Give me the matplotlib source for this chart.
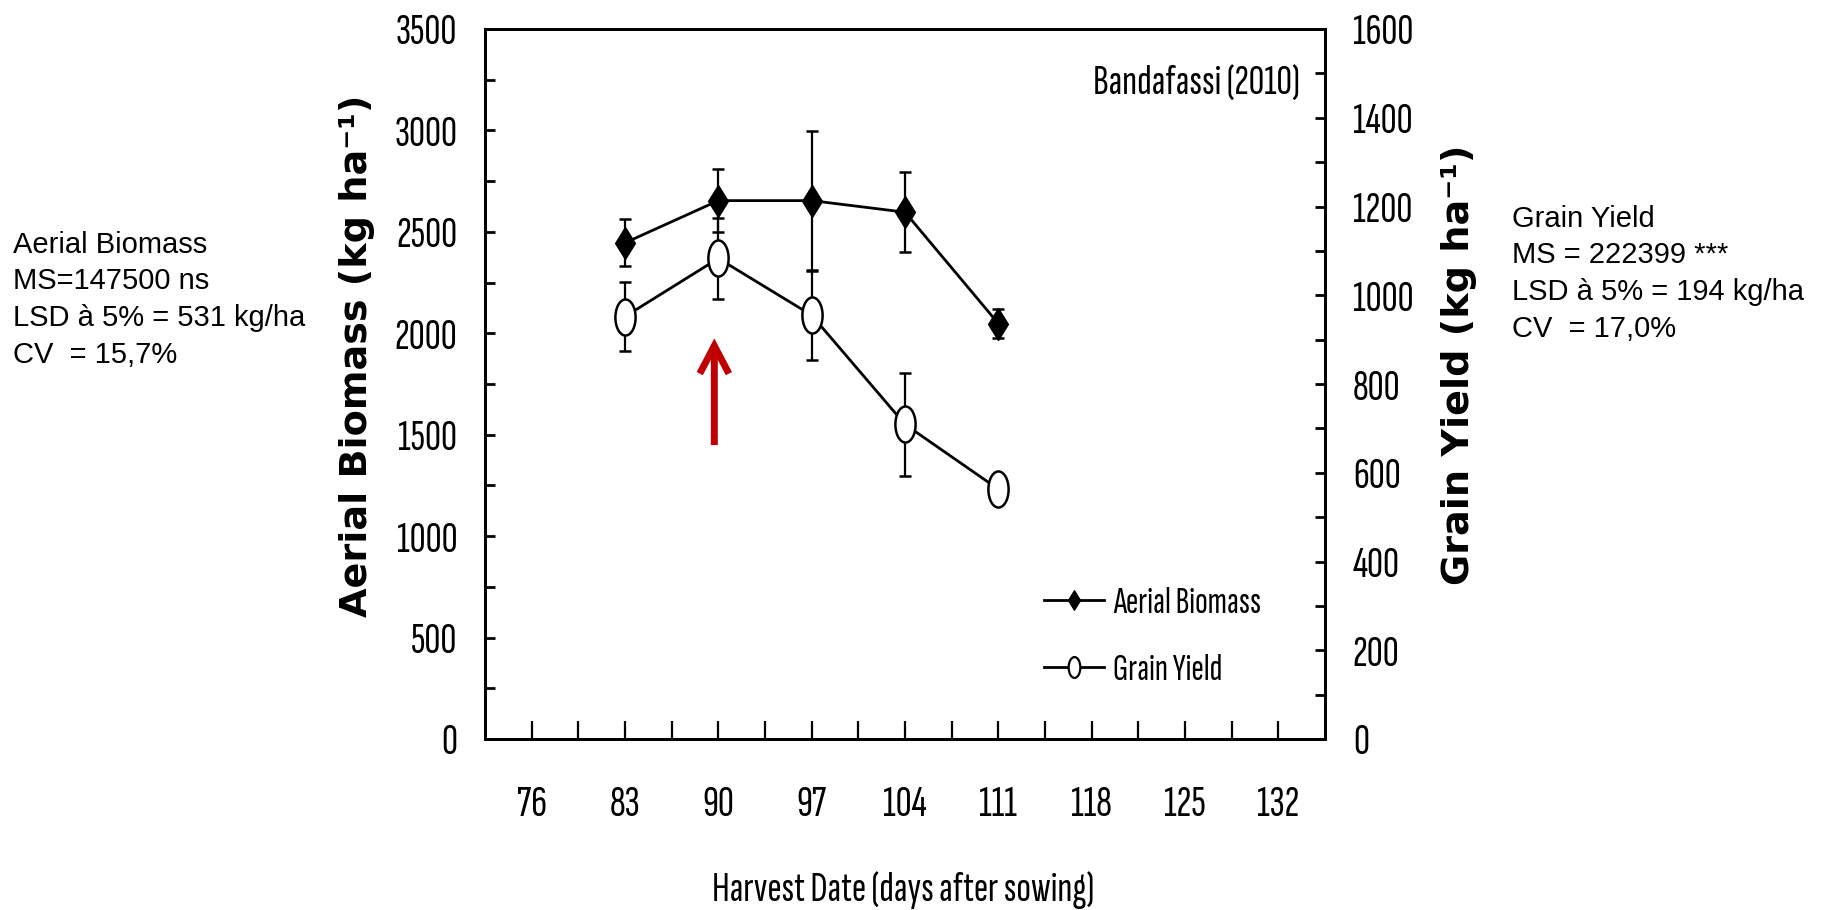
import matplotlib
matplotlib.use("Agg")
import matplotlib.pyplot as plt
from matplotlib import font_manager
from matplotlib.path import Path
from matplotlib.transforms import Affine2D
from matplotlib.lines import Line2D
import numpy as np

# ---- data ----
days = [83, 90, 97, 104, 111]
biomass = [2446, 2654, 2654, 2597, 2048]
biomass_err = [115, 157, 345, 197, 72]
grain = [952, 1083, 955, 709, 563]
grain_err = [77, 92, 101, 116, 15]
xticks = [76, 83, 90, 97, 104, 111, 118, 125, 132]

names = {f.name for f in font_manager.fontManager.ttflist}
NF = next((p for p in ["Sofia Sans Extra Condensed", "Fira Sans Extra Condensed",
                       "Roboto Condensed"] if p in names), "Liberation Sans")
ARIAL = "Liberation Sans"
NW = "semibold"

fig = plt.figure(figsize=(18.24, 9.10), dpi=100)
renderer = fig.canvas.get_renderer()

left_label = "Aerial Biomass (kg ha⁻¹)"
right_label = "Grain Yield (kg ha⁻¹)"
cands = [c for c in ["DejaVu Sans", "Liberation Sans"] if c in names]
best, best_w = "DejaVu Sans", 0
for c in cands:
    t = fig.text(0, 0, left_label, fontfamily=[c, "DejaVu Sans"], fontweight="bold", fontsize=20)
    w = t.get_window_extent(renderer).width
    t.remove()
    if w > best_w:
        best, best_w = c, w
WF = best
label_fs = min(20 * 522 / best_w, 30)

ax = fig.add_axes([485/1824, 1-739/910, (1325-485)/1824, (739-29)/910])
ax2 = ax.twinx()

diamond = Path([(0, 1), (0.62, 0), (0, -1), (-0.62, 0), (0, 1)],
               [Path.MOVETO, Path.LINETO, Path.LINETO, Path.LINETO, Path.CLOSEPOLY])
ellipse = Path.unit_circle().transformed(Affine2D().scale(0.56, 1.0))

lw = 2.0
ax.errorbar(days, biomass, yerr=biomass_err, color="black", lw=lw, elinewidth=1.6,
            capsize=4.5, capthick=1.8, marker=diamond, markersize=23,
            markerfacecolor="black", markeredgecolor="black", zorder=3)
ax2.errorbar(days, grain, yerr=grain_err, color="black", lw=lw, elinewidth=1.6,
             capsize=4.5, capthick=1.8, marker=ellipse, markersize=26,
             markerfacecolor="white", markeredgecolor="black", markeredgewidth=1.8, zorder=3)

ax.set_xlim(72.5, 135.5)
ax.set_ylim(0, 3500)
ax2.set_ylim(0, 1600)
ax.set_xticks(xticks)
ax.set_xticks(np.arange(79.5, 132, 7), minor=True)
ax.set_yticks(np.arange(0, 3501, 500))
ax.set_yticks(np.arange(250, 3500, 500), minor=True)
ax2.set_yticks(np.arange(0, 1601, 200))
ax2.set_yticks(np.arange(100, 1600, 200), minor=True)

tick_fs = 32
ax.tick_params(axis="x", which="both", direction="in", length=13, width=1.6, pad=33)
ax.tick_params(axis="y", which="both", direction="in", length=7, width=2, pad=20)
ax2.tick_params(axis="y", which="both", direction="in", length=7, width=2, pad=20)
for lab in ax.get_xticklabels() + ax.get_yticklabels() + ax2.get_yticklabels():
    lab.set_fontfamily(NF)
    lab.set_fontsize(tick_fs)
    lab.set_fontweight(NW)

for a in (ax, ax2):
    for s in a.spines.values():
        s.set_linewidth(2.0)

fig.text(357/1824, 1-356/910, left_label, rotation=90,
         fontfamily=[WF, "DejaVu Sans"], fontweight="bold", fontsize=label_fs,
         ha="center", va="center")
fig.text(1459/1824, 1-365/910, right_label, rotation=90,
         fontfamily=[WF, "DejaVu Sans"], fontweight="bold", fontsize=label_fs,
         ha="center", va="center")
fig.text(903/1824, 1-890/910, "Harvest Date (days after sowing)", fontfamily=NF,
         fontweight=NW, fontsize=31, ha="center", va="center")

ax.text(1300/1824, 1-84/910, "Bandafassi (2010)", transform=fig.transFigure,
        fontfamily=NF, fontweight=NW, fontsize=31, ha="right", va="center")

h1 = Line2D([], [], color="black", lw=lw, marker=diamond, markersize=14,
            markerfacecolor="black")
h2 = Line2D([], [], color="black", lw=lw, marker=ellipse, markersize=15,
            markerfacecolor="white", markeredgewidth=1.6)
ax.legend([h1, h2], ["Aerial Biomass", "Grain Yield"], loc="upper left",
          bbox_to_anchor=((1010-485)/840, (739-553)/710), frameon=False,
          prop={"family": NF, "size": 27, "weight": NW}, handlelength=1.6,
          handletextpad=0.25, labelspacing=0.9)

ax.annotate("", xy=(89.7, 1975), xytext=(89.7, 1449),
            arrowprops=dict(arrowstyle="->,head_length=2.0,head_width=1.05",
                            color="#C00000", lw=5, shrinkA=0, shrinkB=0,
                            capstyle="butt", joinstyle="miter"))

fig.text(13/1824, 1-363/910, "Aerial Biomass\nMS=147500 ns\nLSD à 5% = 531 kg/ha\nCV  = 15,7%",
         fontfamily=ARIAL, fontsize=21, ha="left", va="baseline", linespacing=1.4)
fig.text(1512/1824, 1-337/910, "Grain Yield\nMS = 222399 ***\nLSD à 5% = 194 kg/ha\nCV  = 17,0%",
         fontfamily=ARIAL, fontsize=21, ha="left", va="baseline", linespacing=1.4)

fig.savefig("out.png", dpi=100)
